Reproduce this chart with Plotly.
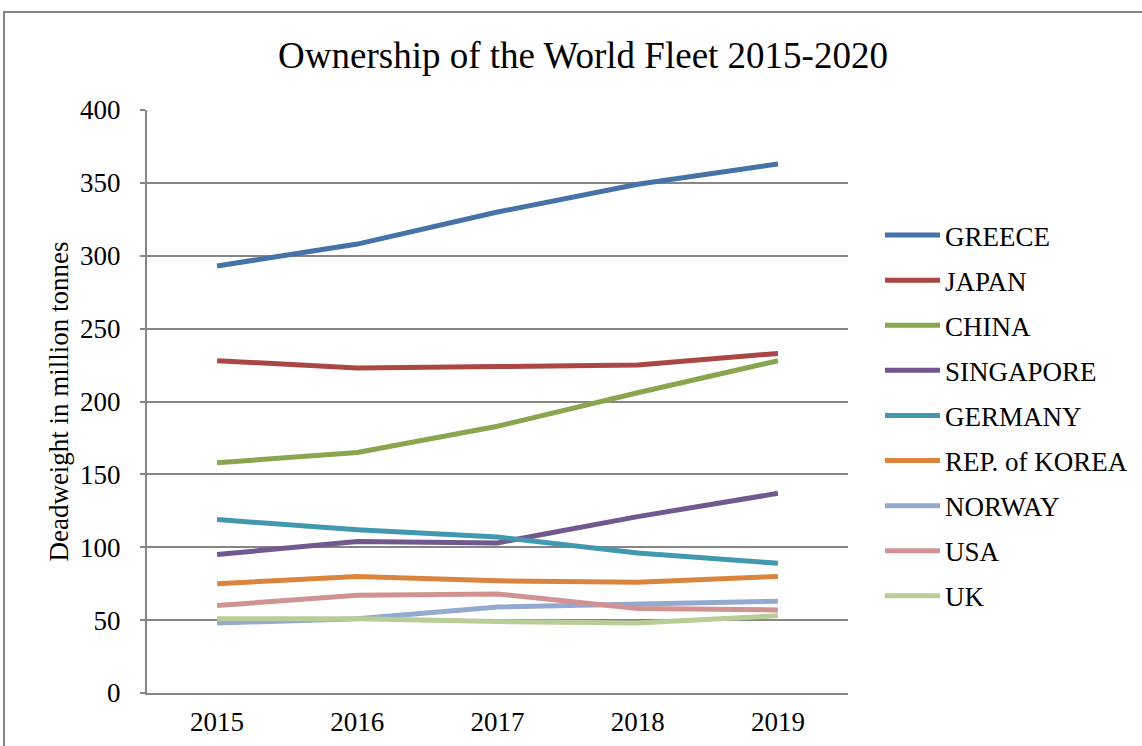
import plotly.graph_objects as go

years = ["2015", "2016", "2017", "2018", "2019"]
countries = ["GREECE", "JAPAN", "CHINA", "SINGAPORE", "GERMANY",
             "REP. of KOREA", "NORWAY", "USA", "UK"]
greece = [293, 308, 330, 349, 363]
japan = [228, 223, 224, 225, 233]
china = [158, 165, 183, 206, 228]
singapore = [95, 104, 103, 121, 137]
germany = [119, 112, 107, 96, 89]
korea = [75, 80, 77, 76, 80]
norway = [48, 51, 59, 61, 63]
usa = [60, 67, 68, 58, 57]
uk = [51, 51, 49, 48, 53]
series = [greece, japan, china, singapore, germany, korea, norway, usa, uk]
colors = ["#4572A7", "#AA4643", "#89A54E", "#71588F", "#4198AF",
          "#DB843D", "#93A9CF", "#D19392", "#B9CD96"]

FONT = "Liberation Serif, Times New Roman, serif"
W, H = 1142, 746
L, R, T, B = 147, 294, 110, 53
pw, ph = W - L - R, H - T - B

fig = go.Figure()
for name, vals, col in zip(countries, series, colors):
    fig.add_trace(go.Scatter(
        x=years, y=vals, name=name, mode="lines", legendgroup=name,
        line=dict(color=col, width=5),
    ))

def px_to_paper_x(px):
    return (px - L) / pw

def px_to_paper_y(py):
    return (H - B - py) / ph

fig.update_layout(
    width=W, height=H,
    margin=dict(l=L, r=R, t=T, b=B, autoexpand=False),
    paper_bgcolor="white", plot_bgcolor="white",
    font=dict(family=FONT, color="black", size=27),
    title=dict(text="Ownership of the World Fleet 2015-2020",
               x=583 / W, xanchor="center", y=1 - 55 / H, yanchor="middle",
               font=dict(family=FONT, size=37, color="black")),
    showlegend=True,
    legend=dict(x=px_to_paper_x(880), y=px_to_paper_y(211), xanchor="left", yanchor="top",
                font=dict(family=FONT, size=27, color="black"),
                itemwidth=55,
                tracegroupgap=7, bgcolor="rgba(0,0,0,0)"),
    xaxis=dict(type="category", range=[-0.5, 4.5], showgrid=False,
               showline=True, linecolor="#868686", linewidth=2,
               ticks="", tickfont=dict(family=FONT, size=27),
               ticklabelstandoff=4, zeroline=False, automargin=False),
    yaxis=dict(range=[0, 400], dtick=50, showgrid=True, gridcolor="#868686", gridwidth=2,
               showline=True, linecolor="#868686", linewidth=2,
               ticks="outside", ticklen=5, tickcolor="#868686", tickwidth=2,
               tickfont=dict(family=FONT, size=27), ticklabelstandoff=14,
               zeroline=False, automargin=False,
               title=dict(text="Deadweight in million tonnes",
                          font=dict(family=FONT, size=27), standoff=4)),
    shapes=[dict(type="rect", xref="paper", yref="paper",
                 x0=px_to_paper_x(4), x1=px_to_paper_x(W + 20),
                 y0=px_to_paper_y(H + 20), y1=px_to_paper_y(12),
                 line=dict(color="#868686", width=2), fillcolor="rgba(0,0,0,0)",
                 layer="below")],
)

fig.write_html("out.html")
